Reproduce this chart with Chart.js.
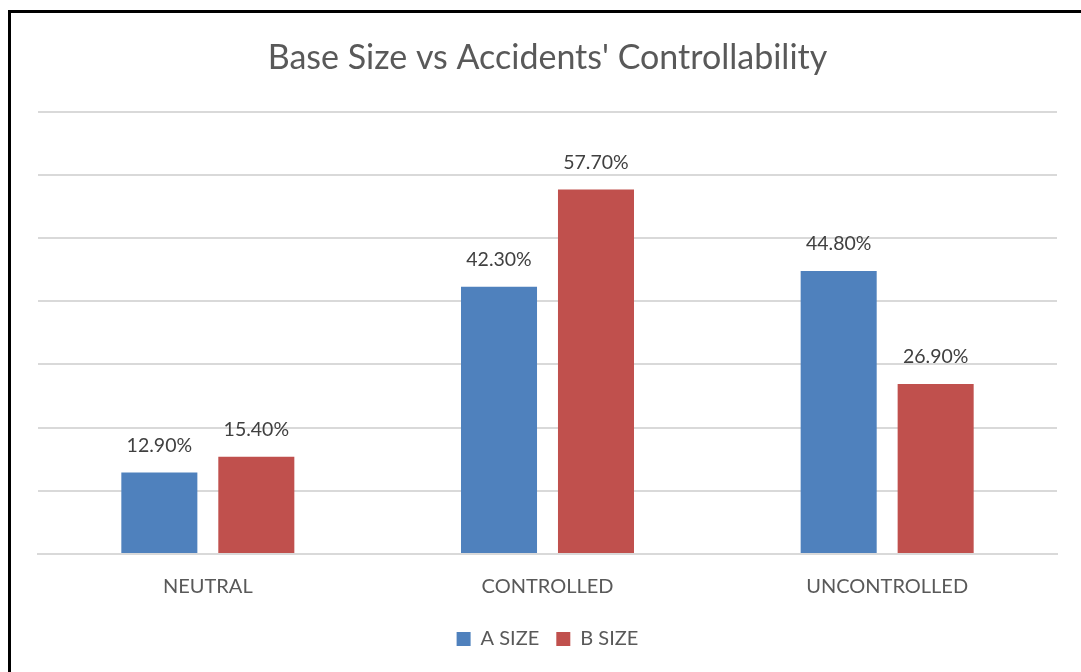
<!DOCTYPE html>
<html lang="en">
<head>
<meta charset="UTF-8">
<title>Base Size vs Accidents' Controllability</title>
<script src="https://cdn.jsdelivr.net/npm/chart.js"></script>
<style>
  html, body { margin: 0; padding: 0; background: #fff; overflow: hidden; }
  #wrap { position: relative; width: 1081px; height: 672px; }
  #frame { position: absolute; left: 8px; top: 10px; right: -20px; bottom: -20px;
           border: 3px solid #000; pointer-events: none; }
</style>
</head>
<body>
<div id="wrap">
  <canvas id="chart" width="1081" height="672"></canvas>
  <div id="frame"></div>
</div>
<script>
// chart data
const categories = ['NEUTRAL', 'CONTROLLED', 'UNCONTROLLED'];
const aSize = [12.9, 42.3, 44.8];
const bSize = [15.4, 57.7, 26.9];
const seriesNames = ['A SIZE', 'B SIZE'];

const FONT = 'Lato, Calibri, sans-serif';

// draws the value above each bar
const valueLabels = {
  id: 'valueLabels',
  afterDatasetsDraw(chart) {
    const ctx = chart.ctx;
    ctx.save();
    ctx.font = '19.5px ' + FONT;
    ctx.fillStyle = '#404040';
    ctx.textAlign = 'center';
    ctx.textBaseline = 'middle';
    chart.data.datasets.forEach((ds, i) => {
      chart.getDatasetMeta(i).data.forEach((bar, j) => {
        ctx.fillText(ds.data[j].toFixed(2) + '%', bar.x, bar.y - 27);
      });
    });
    ctx.restore();
  }
};

new Chart(document.getElementById('chart'), {
  type: 'bar',
  data: {
    labels: categories,
    datasets: [
      { label: seriesNames[0], data: aSize, backgroundColor: '#4f81bd' },
      { label: seriesNames[1], data: bSize, backgroundColor: '#c0504d' }
    ]
  },
  options: {
    responsive: false,
    animation: false,
    categoryPercentage: 0.571,
    barPercentage: 0.784,
    layout: { padding: { left: 38, right: 24, top: 38, bottom: 13 } },
    plugins: {
      title: {
        display: true,
        text: "Base Size vs Accidents' Controllability",
        color: '#595959',
        font: { family: FONT, size: 34, weight: 'normal' },
        padding: { top: 0, bottom: 33 }
      },
      legend: {
        position: 'bottom',
        labels: {
          color: '#595959',
          font: { family: FONT, size: 20 },
          boxWidth: 14,
          boxHeight: 14,
          padding: 17
        }
      },
      tooltip: { enabled: false }
    },
    scales: {
      x: {
        grid: { display: false },
        border: { color: '#d9d9d9', width: 2 },
        ticks: { color: '#595959', font: { family: FONT, size: 20 }, padding: 13 }
      },
      y: {
        min: 0,
        max: 70,
        ticks: { display: false, stepSize: 10 },
        grid: { color: '#d9d9d9', lineWidth: 2, drawTicks: false },
        border: { display: false }
      }
    }
  },
  plugins: [valueLabels]
});
</script>
</body>
</html>
